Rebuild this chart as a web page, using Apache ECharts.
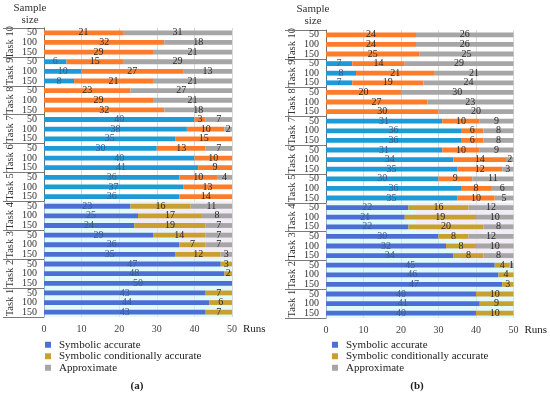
<!DOCTYPE html>
<html><head><meta charset="utf-8">
<script src="https://cdn.jsdelivr.net/npm/echarts@6/dist/echarts.min.js"></script>
<style>html,body{margin:0;padding:0;background:#fff}#c{width:550px;height:395px}</style>
</head><body><div id="c"></div>
<script>
const tasks = ['Task 10','Task 9','Task 8','Task 7','Task 6','Task 5','Task 4','Task 3','Task 2','Task 1'];
const sampleSizes = ['50','100','150'];
const seriesNames = ['Symbolic accurate','Symbolic conditionally accurate','Approximate'];
const xTicks = [0,10,20,30,40,50];

// Panel (a): rows Task10-50 ... Task1-150
const accA    = [0,0,0, 6,10,8, 0,0,0, 40,38,35, 30,40,41, 36,37,36, 23,25,24, 29,36,35, 47,48,50, 43,44,43];
const condA   = [21,32,29, 15,27,21, 23,29,32, 3,10,15, 13,10,9, 10,13,14, 16,17,19, 14,7,12, 3,2,0, 7,6,7];
const approxA = [31,18,21, 29,13,21, 27,21,18, 7,2,0, 7,0,0, 4,0,0, 11,8,7, 7,7,3, 0,0,0, 0,0,0];

// Panel (b)
const accB    = [0,0,0, 7,8,7, 0,0,0, 31,36,36, 31,34,35, 30,36,35, 22,21,22, 30,32,34, 45,46,47, 40,41,40];
const condB   = [24,24,25, 14,21,19, 20,27,30, 10,6,6, 10,14,12, 9,8,10, 16,19,20, 8,8,8, 4,4,3, 10,9,10];
const approxB = [26,26,25, 29,21,24, 30,23,20, 9,8,8, 9,2,3, 11,6,5, 12,10,8, 12,10,8, 1,0,0, 0,0,0];

const cats = [];
tasks.forEach((t,i)=>sampleSizes.forEach(s=>cats.push(t+'|'+s)));

const topColors = ['#1e9ad6','#fb7d2b','#a6a6a6'];
const lowColors = ['#4d6fd4','#c9a030','#a6a6a6'];
const serif = 'Liberation Serif';

function build(gi, arrs){
  return arrs.map((arr,si)=>({
    name: seriesNames[si], type:'bar', stack:'s'+gi, xAxisIndex:gi, yAxisIndex:gi,
    barWidth:'50%',
    itemStyle:{color: lowColors[si]},
    label:{show:true, position:'inside', fontFamily:serif, fontSize:10,
      color: si===0 ? '#3a5a86' : '#2a2a2a',
      formatter: p => p.value>0 ? String(p.value) : ''},
    data: arr.map((v,i)=>({value:v, itemStyle:{color: (i<18? topColors: lowColors)[si]}})),
    markArea: si===0 ? {silent:true, data:[
      [{xAxis:0, yAxis:cats[18], itemStyle:{color:'rgba(200,248,250,0.55)'}},{xAxis:50, yAxis:cats[29]}],
      [{xAxis:24, yAxis:cats[18], itemStyle:{color:'rgba(252,226,240,0.6)'}},{xAxis:51, yAxis:cats[20]}],
      [{xAxis:36, yAxis:cats[21], itemStyle:{color:'rgba(252,226,240,0.6)'}},{xAxis:51, yAxis:cats[23]}]
    ]} : undefined
  }));
}

const grids = [
  {left:44, width:188, top:28, height:289},
  {left:326, width:191, top:30, height:288}
];

const xAxes = grids.map((g,i)=>({
  type:'value', gridIndex:i, min:xTicks[0], max:xTicks[xTicks.length-1], interval:10,
  axisLine:{show:false}, axisTick:{show:false},
  splitLine:{lineStyle:{color:'#d9d9d9'}},
  axisLabel:{fontFamily:serif, fontSize:10, color:'#404040', margin:7},
  name:'Runs', nameLocation:'end', nameGap:8,
  nameTextStyle:{fontFamily:serif, fontSize:11, color:'#222', verticalAlign:'top', padding:[7,0,0,0]}
}));

const yAxes = grids.map((g,i)=>({
  type:'category', gridIndex:i, data:cats, inverse:true,
  axisLine:{lineStyle:{color:'#6e6e6e'}},
  axisTick:{show:true, length:41, interval:(idx)=>idx%3===0, lineStyle:{color:'#7a7a7a'}},
  axisLabel:{fontFamily:serif, fontSize:10, color:'#333', margin:7, interval:0,
    formatter:v=>v.split('|')[1]}
}));

const chart = echarts.init(document.getElementById('c'), null, {renderer:'canvas'});
const legendBase = {data:seriesNames, orient:'vertical', top:334, itemWidth:6, itemHeight:6, itemGap:0, icon:'rect',
     textStyle:{fontFamily:serif, fontSize:11, color:'#222', lineHeight:11.5, padding:[0,0,0,3]}};
const staticGraphics = [
  {type:'text', x:30, y:8, style:{text:'Sample', fontFamily:serif, fontSize:11, fill:'#333', align:'center', verticalAlign:'middle'}},
  {type:'text', x:30, y:20, style:{text:'size', fontFamily:serif, fontSize:11, fill:'#333', align:'center', verticalAlign:'middle'}},
  {type:'text', x:313, y:9, style:{text:'Sample', fontFamily:serif, fontSize:11, fill:'#333', align:'center', verticalAlign:'middle'}},
  {type:'text', x:313, y:21, style:{text:'size', fontFamily:serif, fontSize:11, fill:'#333', align:'center', verticalAlign:'middle'}},
  {type:'text', x:137, y:386, style:{text:'(a)', fontFamily:serif, fontSize:11, fontWeight:'bold', fill:'#222', align:'center', verticalAlign:'middle'}},
  {type:'text', x:417, y:386, style:{text:'(b)', fontFamily:serif, fontSize:11, fontWeight:'bold', fill:'#222', align:'center', verticalAlign:'middle'}}
];
chart.setOption({
  animation:false,
  grid: grids,
  xAxis: xAxes,
  yAxis: yAxes,
  legend: [
    Object.assign({left:40}, legendBase),
    Object.assign({left:327}, legendBase)
  ],
  graphic: staticGraphics,
  series: [...build(0,[accA,condA,approxA]), ...build(1,[accB,condB,approxB])]
});

// Task group labels positioned from the category axis
const taskGraphics = [];
[0,1].forEach(gi=>{
  const x0 = chart.convertToPixel({xAxisIndex:gi}, 0);
  tasks.forEach((t,ti)=>{
    const y = chart.convertToPixel({yAxisIndex:gi}, cats[ti*3+1]);
    taskGraphics.push({type:'text', x:x0-34, y:y, rotation:Math.PI/2,
      style:{text:t, fontFamily:serif, fontSize:10.5, fill:'#333', align:'center', verticalAlign:'middle'}});
  });
});
chart.setOption({graphic: staticGraphics.concat(taskGraphics)});
</script></body></html>
